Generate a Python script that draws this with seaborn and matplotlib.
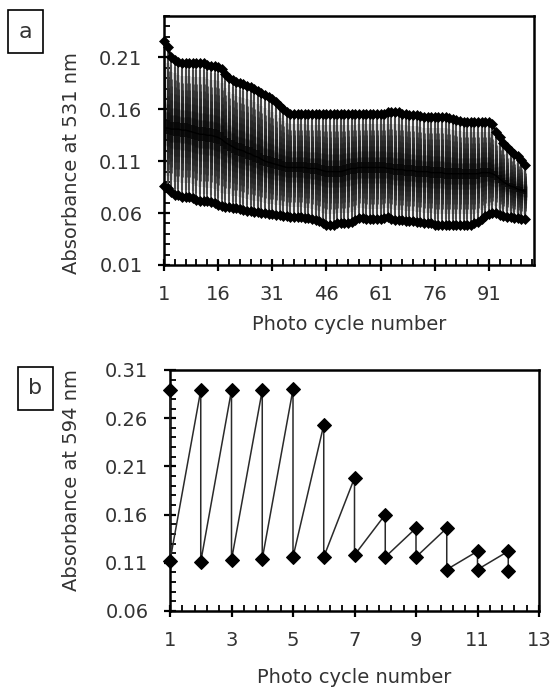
import numpy as np
import pandas as pd
import matplotlib
matplotlib.use("Agg")
import matplotlib.pyplot as plt
from matplotlib.ticker import FixedLocator, FormatStrFormatter
from matplotlib.patches import Rectangle
import seaborn as sns

# ---------------- data ----------------
# Panel a: absorbance at 531 nm over photo cycles
cycles_a = list(range(1, 102))
high_a = [
    0.226, 0.220, 0.210, 0.208, 0.206, 0.205, 0.205, 0.205, 0.205, 0.205,
    0.205, 0.205, 0.203, 0.202, 0.202, 0.201, 0.199, 0.194, 0.190, 0.188,
    0.186, 0.185, 0.184, 0.183, 0.182, 0.180, 0.178, 0.176, 0.174, 0.172,
    0.170, 0.167, 0.163, 0.160, 0.157, 0.156, 0.156, 0.156, 0.156, 0.156,
    0.156, 0.156, 0.156, 0.156, 0.156, 0.156, 0.156, 0.156, 0.156, 0.156,
    0.156, 0.156, 0.156, 0.156, 0.156, 0.156, 0.156, 0.156, 0.156, 0.156,
    0.156, 0.156, 0.157, 0.157, 0.157, 0.157, 0.156, 0.156, 0.155, 0.155,
    0.155, 0.154, 0.153, 0.153, 0.153, 0.153, 0.153, 0.153, 0.153, 0.152,
    0.151, 0.150, 0.149, 0.148, 0.148, 0.148, 0.148, 0.148, 0.148, 0.148,
    0.148, 0.146, 0.138, 0.133, 0.128, 0.124, 0.120, 0.117, 0.115, 0.111,
    0.106,
]
low_a = [
    0.086, 0.084, 0.080, 0.077, 0.077, 0.076, 0.076, 0.076, 0.075, 0.073,
    0.072, 0.072, 0.072, 0.071, 0.070, 0.068, 0.067, 0.066, 0.066, 0.065,
    0.065, 0.064, 0.063, 0.062, 0.062, 0.061, 0.061, 0.060, 0.060, 0.059,
    0.059, 0.058, 0.058, 0.057, 0.057, 0.056, 0.056, 0.056, 0.056, 0.055,
    0.055, 0.054, 0.053, 0.052, 0.050, 0.049, 0.049, 0.049, 0.050, 0.050,
    0.050, 0.050, 0.051, 0.053, 0.055, 0.055, 0.054, 0.054, 0.054, 0.054,
    0.054, 0.055, 0.056, 0.054, 0.053, 0.053, 0.053, 0.052, 0.052, 0.052,
    0.051, 0.051, 0.050, 0.050, 0.050, 0.049, 0.049, 0.049, 0.049, 0.049,
    0.049, 0.049, 0.049, 0.049, 0.049, 0.049, 0.050, 0.051, 0.054, 0.057,
    0.059, 0.060, 0.060, 0.058, 0.057, 0.056, 0.056, 0.055, 0.055, 0.054,
    0.054,
]
mid_a = [
    0.142, 0.142, 0.141, 0.141, 0.141, 0.140, 0.140, 0.139, 0.138, 0.137,
    0.136, 0.136, 0.135, 0.135, 0.134, 0.133, 0.131, 0.128, 0.126, 0.124,
    0.122, 0.121, 0.120, 0.118, 0.117, 0.115, 0.114, 0.112, 0.110, 0.109,
    0.108, 0.107, 0.106, 0.105, 0.104, 0.104, 0.104, 0.104, 0.104, 0.104,
    0.103, 0.103, 0.103, 0.102, 0.101, 0.100, 0.100, 0.100, 0.100, 0.100,
    0.101, 0.102, 0.103, 0.103, 0.104, 0.104, 0.104, 0.104, 0.104, 0.104,
    0.104, 0.104, 0.103, 0.103, 0.102, 0.102, 0.102, 0.101, 0.101, 0.101,
    0.100, 0.100, 0.100, 0.100, 0.099, 0.099, 0.099, 0.099, 0.098, 0.098,
    0.098, 0.098, 0.098, 0.098, 0.098, 0.098, 0.098, 0.098, 0.099, 0.099,
    0.099, 0.098, 0.096, 0.093, 0.090, 0.088, 0.086, 0.085, 0.083, 0.082,
    0.081,
]

# Panel b: absorbance at 594 nm (two readings per cycle)
cycles_b = [1, 2, 3, 4, 5, 6, 7, 8, 9, 10, 11, 12]
high_b = [0.289, 0.289, 0.289, 0.289, 0.290, 0.253, 0.198, 0.160, 0.146, 0.146, 0.122, 0.122]
low_b = [0.112, 0.111, 0.113, 0.114, 0.116, 0.116, 0.118, 0.116, 0.116, 0.103, 0.103, 0.101]

label_a = "a"
label_b = "b"
ylabel_a = "Absorbance at 531 nm"
ylabel_b = "Absorbance at 594 nm"
xlabel = "Photo cycle number"

# ---------------- style ----------------
sns.set_style("white")
plt.rcParams["font.family"] = ["DejaVu Sans"]
TXT = "#333333"
FS = 14

W, H = 555, 690
fig = plt.figure(figsize=(W / 100, H / 100), dpi=100)

def px_axes(left, top, right, bottom):
    return fig.add_axes([left / W, 1 - bottom / H, (right - left) / W, (bottom - top) / H])

def style_axes(ax):
    for s in ax.spines.values():
        s.set_visible(True)
        s.set_linewidth(1.8)
        s.set_color("black")
    ax.tick_params(axis="both", which="major", direction="inout", length=9, width=1.6,
                   color="black", labelsize=FS, labelcolor=TXT,
                   bottom=True, left=True, top=False, right=False)
    ax.tick_params(axis="both", which="minor", direction="in", length=4.5, width=1.3,
                   color="black", bottom=True, left=True, top=False, right=False)
    ax.tick_params(axis="x", which="major", pad=10)
    ax.tick_params(axis="y", which="major", pad=11)

# ---------------- panel a ----------------
ax1 = px_axes(164, 16, 534, 265)
df_a = pd.DataFrame({"cycle": cycles_a, "high": high_a, "low": low_a, "mid": mid_a})

# gradient high-low lines: nested layers, darker and wider toward the middle series
LAYERS = 10
hi = np.array(high_a)
lo = np.array(low_a)
md = np.array(mid_a)
for j in range(LAYERS):
    f = 1 - j / LAYERS
    g = 0.32 * f
    lw = 1.4 + 1.4 * (1 - f)
    ax1.vlines(cycles_a, md - (md - lo) * f, md + (hi - md) * f,
               colors=[(g, g, g)], linewidths=lw, zorder=2 + j * 0.01)

sns.lineplot(data=df_a, x="cycle", y="mid", ax=ax1, color="black", linewidth=1.0, zorder=3)
for col in ["high", "low"]:
    sns.lineplot(data=df_a, x="cycle", y=col, ax=ax1, color="black", linewidth=2.0,
                 marker="D", markersize=5.5, markeredgecolor="black", markeredgewidth=0.5,
                 clip_on=False, zorder=4)

ax1.set_xlim(1, 103.5)
ax1.set_ylim(0.01, 0.25)
ax1.xaxis.set_major_locator(FixedLocator([1, 16, 31, 46, 61, 76, 91]))
ax1.xaxis.set_minor_locator(FixedLocator(list(range(1, 104, 3))))
ax1.yaxis.set_major_locator(FixedLocator([0.01, 0.06, 0.11, 0.16, 0.21]))
ax1.yaxis.set_minor_locator(FixedLocator([round(0.01 + 0.01 * i, 2) for i in range(25)]))
ax1.yaxis.set_major_formatter(FormatStrFormatter("%.2f"))
style_axes(ax1)
ax1.set_xlabel(xlabel, fontsize=FS, color=TXT)
ax1.set_ylabel(ylabel_a, fontsize=FS, color=TXT)
ax1.xaxis.set_label_coords(0.50, -0.24)
ax1.xaxis.label.set_va("center")
ax1.yaxis.set_label_coords(-0.249, 0.41)
ax1.yaxis.label.set_va("center")
ax1.yaxis.label.set_rotation_mode("anchor")

# ---------------- panel b ----------------
ax2 = px_axes(170, 370, 539, 611)
seq_x, seq_y = [], []
for c, h, l in zip(cycles_b, high_b, low_b):
    seq_x += [c, c]
    seq_y += [h, l]
df_b = pd.DataFrame({"cycle": seq_x, "abs": seq_y})
sns.lineplot(data=df_b, x="cycle", y="abs", ax=ax2, sort=False, estimator=None,
             color="#2a2a2a", linewidth=1.1, marker="D", markersize=7,
             markerfacecolor="black", markeredgecolor="black", clip_on=False, zorder=3)
ax2.set_xlim(1, 13)
ax2.set_ylim(0.06, 0.31)
ax2.xaxis.set_major_locator(FixedLocator([1, 3, 5, 7, 9, 11, 13]))
ax2.xaxis.set_minor_locator(FixedLocator([round(1 + 0.4 * i, 1) for i in range(31)]))
ax2.yaxis.set_major_locator(FixedLocator([0.06, 0.11, 0.16, 0.21, 0.26, 0.31]))
ax2.yaxis.set_minor_locator(FixedLocator([round(0.06 + 0.01 * i, 2) for i in range(26)]))
ax2.yaxis.set_major_formatter(FormatStrFormatter("%.2f"))
style_axes(ax2)
ax2.set_xlabel(xlabel, fontsize=FS, color=TXT)
ax2.set_ylabel(ylabel_b, fontsize=FS, color=TXT)
ax2.xaxis.set_label_coords(0.499, -0.278)
ax2.xaxis.label.set_va("center")
ax2.yaxis.set_label_coords(-0.266, 0.544)
ax2.yaxis.label.set_va("center")
ax2.yaxis.label.set_rotation_mode("anchor")

# ---------------- panel letters ----------------
def letter_box(x0, y0, x1, y1, txt):
    fig.add_artist(Rectangle((x0 / W, 1 - y1 / H), (x1 - x0) / W, (y1 - y0) / H,
                             transform=fig.transFigure, facecolor="white",
                             edgecolor="black", linewidth=1.2))
    fig.text((x0 + x1) / 2 / W, 1 - (y0 + y1) / 2 / H, txt, ha="center", va="center",
             fontsize=16, color=TXT)

letter_box(8, 10, 43, 53, label_a)
letter_box(18, 367, 53, 410, label_b)

fig.savefig("out.png", dpi=100)
